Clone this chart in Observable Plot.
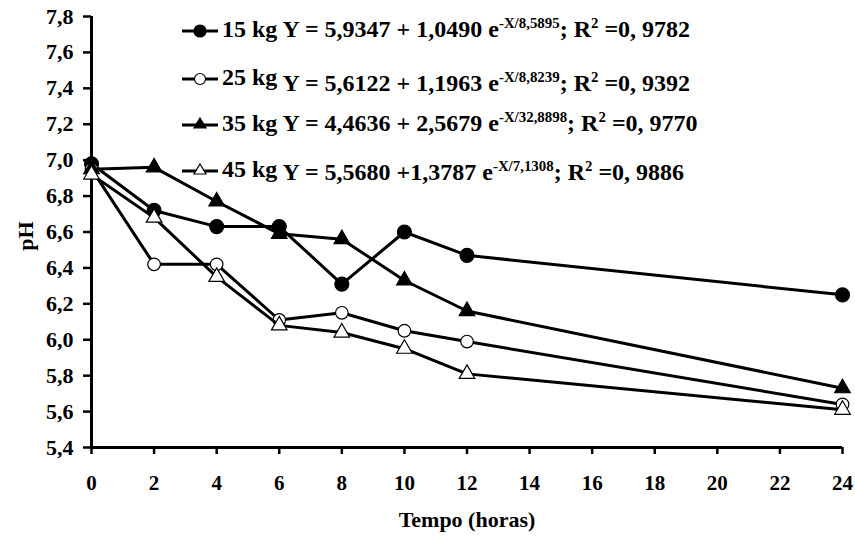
<!DOCTYPE html>
<html>
<head>
<meta charset="utf-8">
<script src="https://cdn.jsdelivr.net/npm/d3@7"></script>
<script src="https://cdn.jsdelivr.net/npm/@observablehq/plot@0.6"></script>
<style>
  body { margin: 0; background: #fff; }
  #chart { position: relative; width: 855px; height: 537px; font-family: "Liberation Serif", "Times New Roman", Times, serif; font-weight: bold; color: #000; }
  #chart svg.plot { position: absolute; left: 0; top: 0; }
  .row { position: absolute; left: 182px; white-space: nowrap; font-size: 24px; line-height: 26px; height: 26px; }
  .row svg { vertical-align: middle; }
  .row sup { font-size: 0.62em; vertical-align: 0; position: relative; top: -0.6em; }
  .xlab { position: absolute; left: 92px; width: 750px; text-align: center; top: 507px; font-size: 22px; line-height: 26px; }
  .ylab { position: absolute; left: 26px; top: 236px; font-size: 22px; transform: translate(-50%, -50%) rotate(-90deg); }
</style>
</head>
<body>
<div id="chart"></div>
<script>
// ---- data ----
const hours = [0, 2, 4, 6, 8, 10, 12, 24];
const series = ["15 kg", "25 kg", "35 kg", "45 kg"];
const ph15 = [6.98, 6.72, 6.63, 6.63, 6.31, 6.60, 6.47, 6.25];
const ph25 = [6.95, 6.42, 6.42, 6.11, 6.15, 6.05, 5.99, 5.64];
const ph35 = [6.95, 6.96, 6.77, 6.59, 6.56, 6.33, 6.16, 5.73];
const ph45 = [6.92, 6.68, 6.35, 6.08, 6.04, 5.95, 5.81, 5.61];
const eqA = ["5,9347", "5,6122", "4,4636", "5,5680"];
const eqB = ["1,0490", "1,1963", "2,5679", "1,3787"];
const eqT = ["8,5895", "8,8239", "32,8898", "7,1308"];
const eqR2 = ["0, 9782", "0, 9392", "0, 9770", "0, 9886"];
const xTicks = [0, 2, 4, 6, 8, 10, 12, 14, 16, 18, 20, 22, 24];
const yTicks = [5.4, 5.6, 5.8, 6.0, 6.2, 6.4, 6.6, 6.8, 7.0, 7.2, 7.4, 7.6, 7.8];

const values = [ph15, ph25, ph35, ph45];
const symbols = ["circle", "circle", "triangle", "triangle"];
const fills = ["black", "white", "black", "white"];
const sizes = [7, 6.3, 5.8, 5.8];

const fmt = d => d.toFixed(1).replace(".", ",");

const marks = [];
values.forEach((vals, i) => {
  const rows = hours.map((h, j) => ({ h, v: vals[j] }));
  marks.push(Plot.line(rows, { x: "h", y: "v", stroke: "black", strokeWidth: 3 }));
  marks.push(Plot.dot(rows, { x: "h", y: "v", symbol: symbols[i], r: sizes[i], fill: fills[i], stroke: "black", strokeWidth: 1.2 }));
});

const plot = Plot.plot({
  width: 855,
  height: 537,
  marginTop: 16,
  marginRight: 13,
  marginBottom: 90,
  marginLeft: 91,
  style: { fontFamily: "'Liberation Serif', 'Times New Roman', Times, serif", fontWeight: "bold", fontSize: "21px", background: "white", overflow: "visible" },
  x: { domain: [0, 24] },
  y: { domain: [5.4, 7.8] },
  marks: [
    Plot.axisY({ ticks: yTicks, tickFormat: fmt, tickSize: 8, tickPadding: 10, strokeWidth: 2.5, fontSize: 22, label: null }),
    Plot.axisX({ ticks: xTicks, tickSize: 7, tickPadding: 21, strokeWidth: 2.5, fontSize: 21, label: null }),
    Plot.ruleX([0], { strokeWidth: 3 }),
    Plot.ruleY([5.4], { strokeWidth: 3 }),
    ...marks
  ]
});
plot.classList.add("plot");
const chart = document.getElementById("chart");
chart.appendChild(plot);

// ---- legend (HTML overlay) ----
const rowY = [29, 77, 123, 169];
const yShift = [0, 6, 0, 3];
series.forEach((s, i) => {
  const row = document.createElement("div");
  row.className = "row";
  row.style.top = (rowY[i] - 13) + "px";
  let marker;
  if (symbols[i] === "circle") {
    marker = `<circle cx="18" cy="13" r="${i === 0 ? 6 : 5.5}" fill="${fills[i]}" stroke="black" stroke-width="1.2"/>`;
  } else {
    marker = `<path d="M18,6 L24,16 L12,16 Z" fill="${fills[i]}" stroke="black" stroke-width="1.2"/>`;
  }
  row.innerHTML =
    `<svg width="36" height="26"><line x1="0" y1="13" x2="36" y2="13" stroke="black" stroke-width="3"/>${marker}</svg>` +
    `<span style="margin-left:4px">${s}</span> ` +
    `<span style="position:relative;top:${yShift[i]}px">Y = ${eqA[i]} ${i === 3 ? "" : "+ "}${i === 3 ? "+" : ""}${eqB[i]} e<sup>-X/${eqT[i]}</sup>; R<sup>2</sup> =${eqR2[i]}</span>`;
  chart.appendChild(row);
});

const xl = document.createElement("div");
xl.className = "xlab";
xl.textContent = "Tempo (horas)";
chart.appendChild(xl);
const yl = document.createElement("div");
yl.className = "ylab";
yl.textContent = "pH";
chart.appendChild(yl);
</script>
</body>
</html>
